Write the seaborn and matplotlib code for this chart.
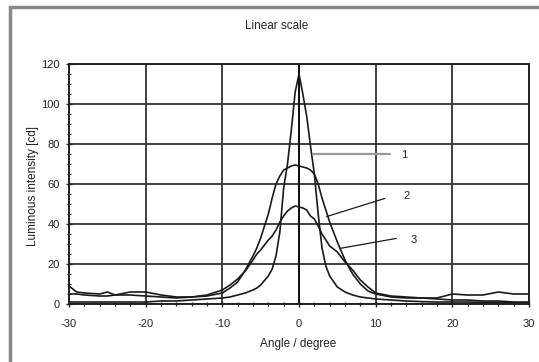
import numpy as np
import pandas as pd
import matplotlib
matplotlib.use("Agg")
import matplotlib.pyplot as plt
from matplotlib.lines import Line2D
from matplotlib.ticker import MultipleLocator
import seaborn as sns

angles = [-30, -29, -28, -26, -25, -24, -22, -20, -18, -16, -14, -12, -10, -9, -8, -7, -6, -5.5, -5,
          -4, -3.5, -3, -2.5, -2, -1.5, -1, -0.5, 0, 0.5, 1, 1.5, 2, 2.5, 3, 3.5, 4, 5, 6, 7, 8, 9,
          10, 12, 14, 16, 18, 20, 22, 24, 26, 28, 30]
curve1 = [1, 1, 1, 1, 1, 1, 1, 1, 1.5, 1.5, 2, 2.5, 3, 3.5, 4.5, 5.5, 7, 8, 9.5,
          14, 17.5, 24, 36, 58, 70, 87, 106, 115, 105, 94, 79, 65, 45, 28, 19, 14, 8.5, 6, 4.5, 3.5, 3,
          2.5, 2, 1.5, 1.2, 1, 1, 1, 0.8, 0.8, 0.5, 0.5]
curve2 = [9, 6, 5.5, 5, 6, 4.5, 6, 6, 4.5, 3.5, 3.5, 4, 5.5, 8, 11, 17, 24, 28, 33,
          45, 53, 60, 64, 67, 68, 69, 69.5, 69, 68.5, 68, 67, 65, 60, 53, 47, 41, 31, 22, 15, 10, 6.5,
          5, 3.5, 3, 3, 3, 5, 4.5, 4.5, 6, 5, 5]
curve3 = [5, 5, 4.5, 4, 4, 4.5, 4.5, 4, 3.5, 3, 3.5, 4.5, 7, 9.5, 12.5, 16.5, 22, 25, 27,
          32, 34, 37, 41, 44, 46.5, 48, 49, 48.5, 48, 47, 44, 42.5, 39, 35, 32, 29, 26, 21, 17, 12, 8.5,
          5.5, 4, 3.5, 3, 2.5, 2, 2, 1.5, 1.5, 1, 1]
curve_names = ["1", "2", "3"]
x_ticks = [-30, -20, -10, 0, 10, 20, 30]
y_ticks = [0, 20, 40, 60, 80, 100, 120]
title = "Linear scale"
x_label = "Angle / degree"
y_label = "Luminous intensity [cd]"

df = pd.concat([
    pd.DataFrame({"angle": angles, "intensity": vals, "curve": name})
    for name, vals in zip(curve_names, [curve1, curve2, curve3])
])

sns.set_style("white")
plt.rcParams["font.family"] = ["Liberation Sans", "DejaVu Sans"]
plt.rcParams["axes.unicode_minus"] = False

fig = plt.figure(figsize=(5.39, 3.62), dpi=100)
ax = fig.add_axes([69 / 539, 1 - 304 / 362, 460 / 539, 240 / 362])

sns.lineplot(data=df, x="angle", y="intensity", units="curve", estimator=None,
             color="#1a1a1a", linewidth=1.2, ax=ax, legend=False, sort=False)

ax.set_xlim(-30, 30)
ax.set_ylim(0, 120)
ax.set_xticks(x_ticks)
ax.set_yticks(y_ticks)
ax.xaxis.set_minor_locator(MultipleLocator(2))
ax.yaxis.set_minor_locator(MultipleLocator(5))
ax.tick_params(axis="both", which="both", bottom=True, left=True, top=False, right=False)
ax.tick_params(axis="both", which="major", direction="inout", length=5, width=1.0,
               labelsize=8, color="#222", labelcolor="#222")
ax.tick_params(axis="x", which="major", pad=8)
ax.tick_params(axis="y", which="major", pad=4)
ax.tick_params(axis="both", which="minor", direction="inout", length=3.5, width=0.9, color="#222")
ax.grid(True, which="major", color="#333", linewidth=1.3)
ax.axvline(0, color="#111", linewidth=1.4, zorder=1)
for s in ax.spines.values():
    s.set_color("#222")
    s.set_linewidth(1.4)
ax.set_xlabel("")
ax.set_ylabel("")

# annotations
ax.plot([1.83, 11.9], [75, 75], color="#999", linewidth=1.6)
ax.text(13.3, 74.5, curve_names[0], fontsize=8, va="center", ha="left", color="#222")
ax.plot([3.6, 11.2], [43.7, 52.8], color="#1a1a1a", linewidth=0.9)
ax.text(13.6, 54, curve_names[1], fontsize=8, va="center", ha="left", color="#222")
ax.plot([5.35, 12.7], [27.8, 32.8], color="#1a1a1a", linewidth=0.9)
ax.text(14.5, 32, curve_names[2], fontsize=8, va="center", ha="left", color="#222")

fig.text(277 / 539, 1 - 26 / 362, title, fontsize=8.5, ha="center", va="center", color="#222")
fig.text(298 / 539, 1 - 344 / 362, x_label, fontsize=8.5, ha="center", va="center", color="#222")
fig.text(33 / 539, 1 - 186 / 362, y_label, fontsize=8.5, ha="center", va="center", rotation=90,
         color="#222")

# outer frame
fig.add_artist(Line2D([10 / 539, 10 / 539], [0, 1 - 7 / 362], transform=fig.transFigure,
                      color="#888", linewidth=2.5))
fig.add_artist(Line2D([10 / 539, 1], [1 - 7 / 362, 1 - 7 / 362], transform=fig.transFigure,
                      color="#888", linewidth=2.5))

fig.savefig("out.png", dpi=100)
